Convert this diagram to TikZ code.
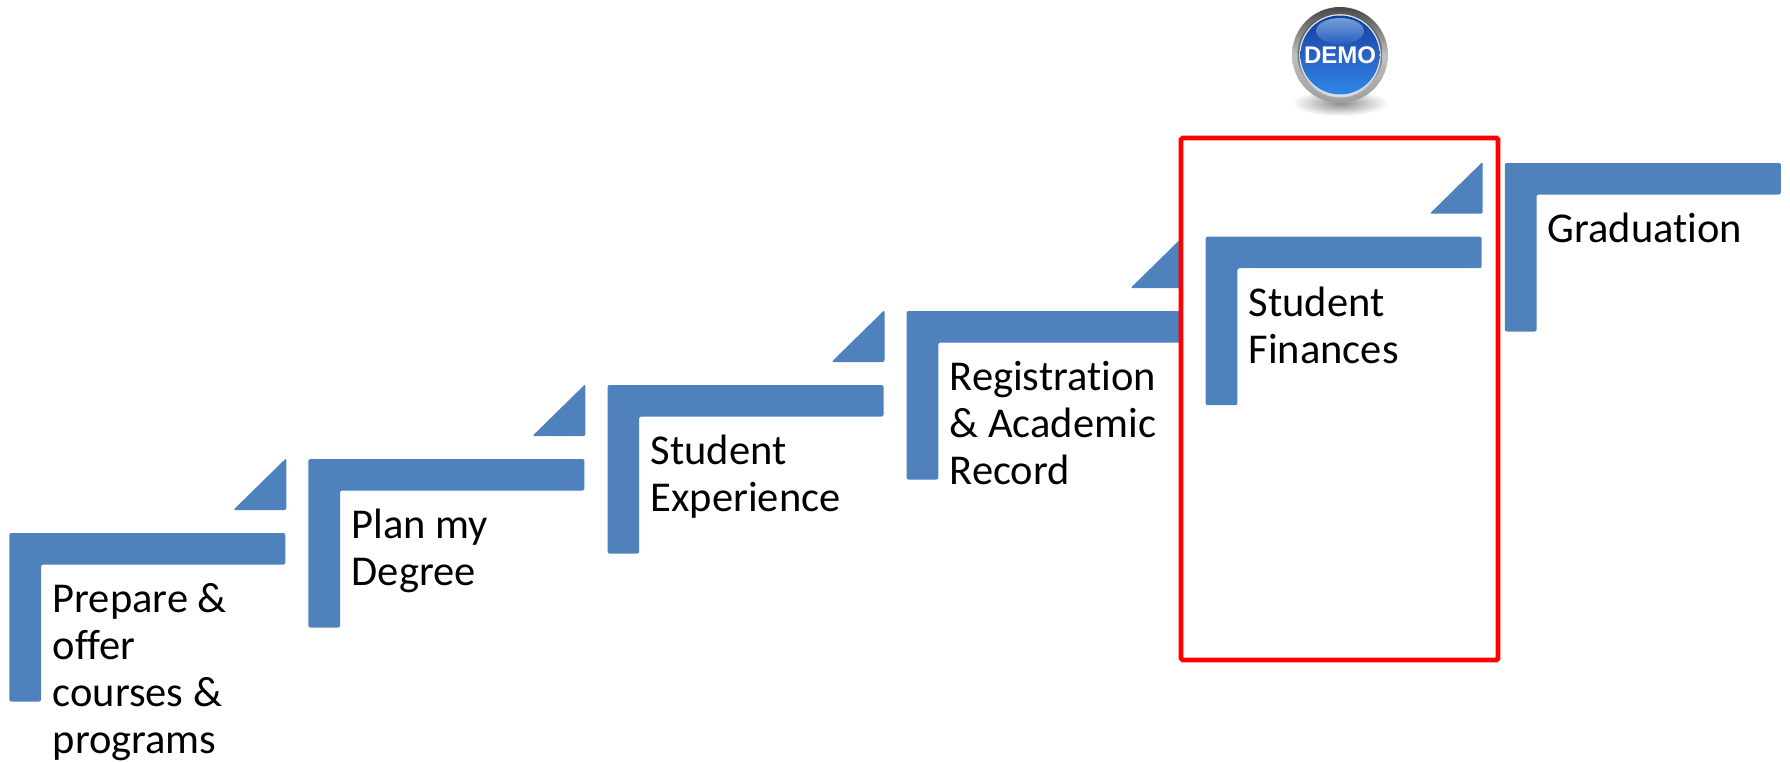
\documentclass[tikz,border=0pt]{standalone}
\usepackage{fontspec}
\setmainfont{Carlito}[Ligatures=CommonOff]
\newfontfamily\demofont{Liberation Sans}
\definecolor{stepblue}{HTML}{4F81BD}
\definecolor{framered}{HTML}{FF0000}
\definecolor{ballbright}{HTML}{2E86E6}
\definecolor{balldark}{HTML}{0F3F9E}
\definecolor{ballhigh}{HTML}{8FB4E4}
\definecolor{balllow}{HTML}{2A62C4}
\tikzset{
  x=1pt,y=-1pt,
  stepshape/.style={fill=stepblue,rounded corners=2pt},
  steplabel/.style={anchor=north west,inner sep=0pt,align=left,text=black,
    font=\fontsize{42.5}{47}\selectfont},
  frame/.style={draw=framered,line width=4.6pt,fill=white,rounded corners=1.5pt}
}
% #1 = left x, #2 = top y
\newcommand{\stepL}[2]{%
  \fill[stepshape] (#1,#2) -- (#1+276,#2) -- (#1+276,#2+31.5) -- (#1+31.7,#2+31.5)
     -- (#1+31.7,#2+168.5) -- (#1,#2+168.5) -- cycle;}
\newcommand{\stepT}[2]{%
  \fill[stepshape] (#1+224,#2-23) -- (#1+277,#2-75) -- (#1+277,#2-23) -- cycle;}
\newcommand{\stepR}[1]{\rule{0pt}{35pt}#1}
\begin{document}
\begin{tikzpicture}
\useasboundingbox (0,0) rectangle (1790,761);
\fill[white] (0,0) rectangle (1790,761);
% steps 1-4
\stepL{9.3}{533}\stepT{9.3}{533}
\stepL{308.4}{459}\stepT{308.4}{459}
\stepL{607.5}{385}\stepT{607.5}{385}
\stepL{906.6}{311}\stepT{906.6}{311}
\node[steplabel] (prepare) at (52.5,577) {\stepR{Prepare \&}\\offer\\courses \&\\programs};
\node[steplabel] (plan) at (351.5,503) {\stepR{Plan my}\\Degree};
\node[steplabel] (experience) at (650.5,429) {\stepR{Student}\\Experience};
\node[steplabel] (registration) at (949.5,355) {\stepR{Registration}\\\& Academic\\Record};
% red frame covers the tail of step 4
\draw[frame] (1181,138) rectangle (1498,660);
% step 5 and 6
\stepL{1205.7}{236.7}\stepT{1205.7}{236.7}
\node[steplabel] (finances) at (1248.5,281) {\stepR{Student}\\Finances};
\stepL{1504.8}{163}
\node[steplabel] (graduation) at (1547.5,207) {\stepR{Graduation}};
% demo button
\shade[inner color=black!45,outer color=white] (1340,103) ellipse [x radius=48,y radius=13];
\shade[top color=black!72,bottom color=black!38,middle color=black!25] (1340,55) circle [radius=48];
\shade[top color=black!65,bottom color=black!15,middle color=black!55] (1340,55) circle [radius=42.5];
\fill[white!70!ballhigh] (1340,55) circle [radius=40.8];
\shade[top color=balldark,bottom color=ballbright,middle color=balllow] (1340,55) circle [radius=39.5];
\shade[top color=ballhigh,bottom color=balllow,opacity=.8] (1340,31) ellipse [x radius=24,y radius=13];
\node[inner sep=0pt,text=white,font=\demofont\fontsize{24}{25}\bfseries\selectfont] (demo) at (1340,55) {DEMO};
\end{tikzpicture}
\end{document}
